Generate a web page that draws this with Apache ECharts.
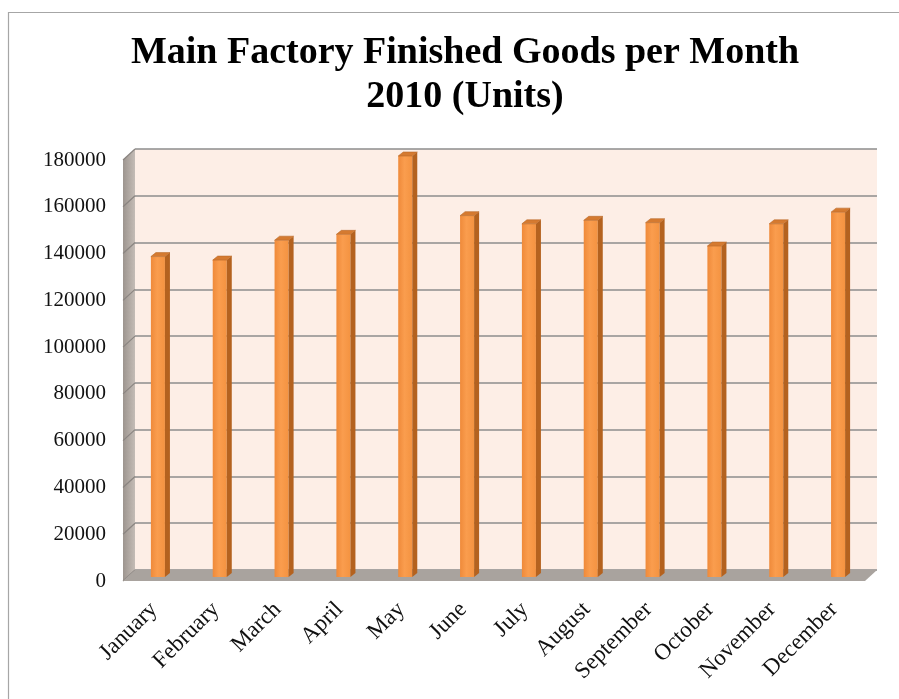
<!DOCTYPE html>
<html>
<head>
<meta charset="utf-8">
<script src="https://cdn.jsdelivr.net/npm/echarts@6/dist/echarts.min.js"></script>
<style>html,body{margin:0;padding:0;background:#fff}#c{width:899px;height:699px}</style>
</head>
<body>
<div id="c"></div>
<script>
const months = ['January','February','March','April','May','June','July','August','September','October','November','December'];
const units = [137000, 135500, 144000, 146500, 180000, 154500, 151000, 152500, 151500, 141500, 151000, 156000];
const yMax = 180000;
const yStep = 20000;

const chart = echarts.init(document.getElementById('c'));
const serif = '"Liberation Serif", "DejaVu Serif", serif';
const DX = 12, DY = -11; // depth of the 3D box

function renderWalls(params, api) {
  const cs = params.coordSys;
  const x0 = cs.x, y0 = cs.y, w = cs.width, h = cs.height;
  const children = [];
  children.push({
    type: 'polygon',
    shape: { points: [[x0, y0], [x0 + DX, y0 + DY], [x0 + DX, y0 + h + DY], [x0, y0 + h]] },
    style: { fill: new echarts.graphic.LinearGradient(0, 0, 1, 0, [
      { offset: 0, color: '#9d958f' }, { offset: 1, color: '#c4bcb6' }]) }
  });
  for (let t = 0; t <= yMax; t += yStep) {
    const yy = api.coord([0, t])[1];
    children.push({
      type: 'line',
      shape: { x1: x0, y1: yy, x2: x0 + DX, y2: yy + DY },
      style: { stroke: '#8a8480', lineWidth: 1.2 }
    });
  }
  children.push({
    type: 'polygon',
    shape: { points: [[x0, y0 + h], [x0 + DX, y0 + h + DY], [x0 + w + DX, y0 + h + DY], [x0 + w, y0 + h]] },
    style: { fill: '#a9a39e' }
  });
  return { type: 'group', children: children };
}

function renderBar(params, api) {
  const i = api.value(0), v = api.value(1);
  const top = api.coord([i, v]);
  const base = api.coord([i, 0]);
  const bw = api.size([1, 0])[0] * 0.227;
  const ox = 4, oy = -4, dx = 5, dy = -4;
  const xl = top[0] + ox - bw / 2, xr = xl + bw;
  const yt = top[1] + oy, yb = base[1] + oy;
  return {
    type: 'group',
    children: [
      { type: 'rect', shape: { x: xl, y: yt, width: bw, height: yb - yt },
        style: { fill: new echarts.graphic.LinearGradient(0, 0, 1, 0, [
          { offset: 0, color: '#ef8a3a' }, { offset: 0.45, color: '#fa9d4e' }, { offset: 1, color: '#f49341' }]) } },
      { type: 'polygon', shape: { points: [[xr, yt], [xr + dx, yt + dy], [xr + dx, yb + dy], [xr, yb]] },
        style: { fill: '#b4621f' } },
      { type: 'polygon', shape: { points: [[xl, yt], [xl + dx, yt + dy], [xr + dx, yt + dy], [xr, yt]] },
        style: { fill: '#d57a30', stroke: '#b86a2a', lineWidth: 0.6 } }
    ]
  };
}

chart.setOption({
  animation: false,
  backgroundColor: '#ffffff',
  title: {
    text: 'Main Factory Finished Goods per Month\n2010 (Units)',
    left: 460, top: 26, textAlign: 'center',
    textStyle: { fontFamily: serif, fontWeight: 'bold', fontSize: 38, lineHeight: 44, color: '#000' }
  },
  graphic: [{
    type: 'rect', silent: true, z: -10,
    shape: { x: 8.5, y: 12.5, width: 1000, height: 1000 },
    style: { fill: 'none', stroke: '#a6a6a6', lineWidth: 1.2 }
  }],
  grid: [
    { left: 123, right: 34, top: 160, bottom: 118 },
    { left: 123 + DX, right: 34 - DX, top: 160 + DY, bottom: 118 - DY, show: true, backgroundColor: '#fdeee6', borderWidth: 0 }
  ],
  xAxis: [
    { type: 'category', gridIndex: 0, data: months,
      axisLine: { show: false }, axisTick: { show: false },
      axisLabel: { rotate: 45, interval: 0, margin: 25, fontFamily: serif, fontSize: 23, color: '#111' } },
    { type: 'category', gridIndex: 1, data: months, show: false }
  ],
  yAxis: [
    { type: 'value', gridIndex: 0, min: 0, max: yMax, interval: yStep,
      axisLine: { show: false }, axisTick: { show: false }, splitLine: { show: false },
      axisLabel: { margin: 17, fontFamily: serif, fontSize: 21, color: '#111', formatter: v => String(v) } },
    { type: 'value', gridIndex: 1, min: 0, max: yMax, interval: yStep,
      axisLine: { show: false }, axisTick: { show: false }, axisLabel: { show: false },
      splitLine: { show: true, lineStyle: { color: '#8c8c8c', width: 1.6 } } }
  ],
  series: [
    { type: 'custom', xAxisIndex: 0, yAxisIndex: 0, silent: true, z: 1,
      renderItem: renderWalls, data: [[0, 0]] },
    { type: 'custom', xAxisIndex: 0, yAxisIndex: 0, z: 5,
      renderItem: renderBar,
      data: units.map((u, i) => [i, u]) }
  ]
});
</script>
</body>
</html>
